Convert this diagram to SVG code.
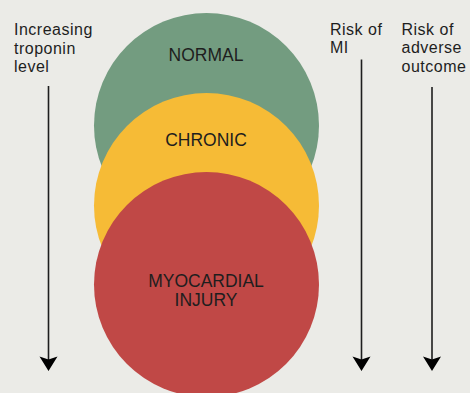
<svg xmlns="http://www.w3.org/2000/svg" width="470" height="393" viewBox="0 0 470 393">
<style>
.t{font-family:"Liberation Sans",Arial,sans-serif;font-size:17.5px;fill:#1e1e1e}
.s{font-size:16px;letter-spacing:0.5px}
.c{text-anchor:middle}
.ln{stroke:#1e1e1e;stroke-width:1.6;fill:none}
.hd{fill:#000}
</style>
<rect width="470" height="393" fill="#ebebe7"/>
<g id="normal">
<circle cx="206.5" cy="125.5" r="112.5" fill="#739c80"/>
<text class="t c" x="206" y="61">NORMAL</text>
</g>
<g id="chronic">
<circle cx="206.5" cy="205.5" r="112.5" fill="#f6bb36"/>
<text class="t c" x="206" y="146">CHRONIC</text>
</g>
<g id="injury">
<circle cx="206.5" cy="284.5" r="112.5" fill="#c04846"/>
<text class="t c" x="206" y="287">MYOCARDIAL</text>
<text class="t c" x="206" y="306">INJURY</text>
</g>
<g id="label-troponin">
<text class="t s" x="14" y="35">Increasing</text>
<text class="t s" x="14" y="53.5">troponin</text>
<text class="t s" x="14" y="72">level</text>
</g>
<g id="label-mi">
<text class="t s" x="330" y="34.5">Risk of</text>
<text class="t s" x="330" y="53">MI</text>
</g>
<g id="label-outcome">
<text class="t s" x="401.5" y="34.5">Risk of</text>
<text class="t s" x="401.5" y="53">adverse</text>
<text class="t s" x="401.5" y="71.5">outcome</text>
</g>
<g id="connectors">
<line class="ln" x1="48.5" y1="86" x2="48.5" y2="360"/>
<path class="hd" d="M39.5,356.5 L48.5,371 L57.5,356.5 L48.5,359.5 Z"/>
<line class="ln" x1="361.5" y1="59.5" x2="361.5" y2="360"/>
<path class="hd" d="M352.5,356.5 L361.5,371 L370.5,356.5 L361.5,359.5 Z"/>
<line class="ln" x1="432" y1="87" x2="432" y2="360"/>
<path class="hd" d="M423,356.5 L432,371 L441,356.5 L432,359.5 Z"/>
</g>
</svg>
